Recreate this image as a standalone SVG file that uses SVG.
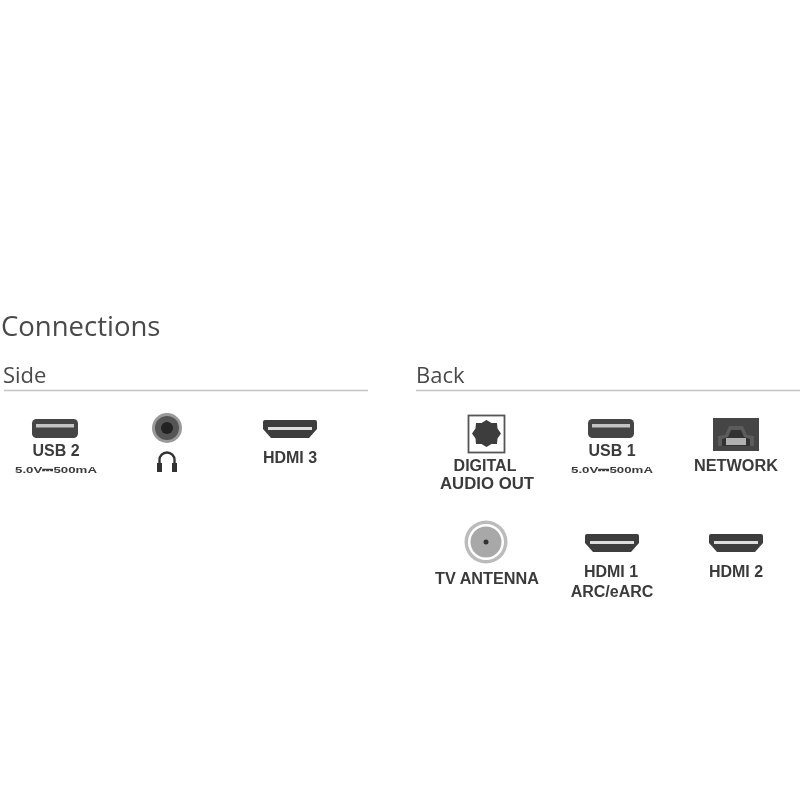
<svg xmlns="http://www.w3.org/2000/svg" width="800" height="800" viewBox="0 0 800 800">
<defs>
<style>
text{font-family:"Open Sans","Noto Sans","Liberation Sans",sans-serif;fill:#3a3a3a}
.h1{font-size:27.500px;fill:#4a4a4a}
.h2{font-size:22px;fill:#4a4a4a}
.l{font-size:16px;font-weight:700;text-anchor:middle;font-family:"Liberation Sans",sans-serif}
.s{font-size:9.500px;font-weight:700;text-anchor:middle;font-family:"Liberation Sans",sans-serif}
.rule{stroke:#c4c4c4;stroke-width:1.400}
.soft{filter:url(#soft)}
</style>
<filter id="soft" x="0" y="0" width="800" height="800" filterUnits="userSpaceOnUse"><feGaussianBlur stdDeviation="0.600"/></filter>
<g id="usb"><rect x="-23" y="-10" width="46" height="19" rx="4.500" fill="#444"/><rect x="-19" y="-5" width="38" height="3.500" fill="#c4c4c4"/></g>
<g id="hdmi"><path d="M-25-9H25Q27-9 27-7V0L19 9H-19L-27 0V-7Q-27-9-25-9Z" fill="#3c3c3c"/><rect x="-22" y="-2" width="44" height="3" fill="#ddd"/></g>
</defs>
<rect width="800" height="800" fill="#fff"/>
<g class="soft">
<g id="titles">
<text class="h1" x="1" y="336">Connections</text>
<text class="h2" x="3" y="383">Side</text>
<text class="h2" x="416" y="383">Back</text>
<line class="rule" x1="4" y1="390.500" x2="368" y2="390.500"/>
<line class="rule" x1="416" y1="390.500" x2="800" y2="390.500"/>
</g>
<g id="usb2"><use href="#usb" x="55" y="429"/><text class="l" x="56" y="456">USB 2</text><text class="s" x="56" y="473" textLength="82" lengthAdjust="spacingAndGlyphs">5.0V⎓500mA</text></g>
<g id="headphone">
<circle cx="167" cy="428" r="15" fill="#999"/><circle cx="167" cy="428" r="12" fill="#555"/><circle cx="167" cy="428" r="6" fill="#222"/>
<path d="M159.500 468V460a7.500 7.500 0 0 1 15 0V468" fill="none" stroke="#333" stroke-width="2.400"/><rect x="157" y="463" width="5" height="9" fill="#333"/><rect x="172" y="463" width="5" height="9" fill="#333"/>
</g>
<g id="hdmi3"><use href="#hdmi" x="290" y="429"/><text class="l" x="290" y="463">HDMI 3</text></g>
<g id="digital-audio-out">
<rect x="468.500" y="415.500" width="36" height="37" fill="#fff" stroke="#555" stroke-width="1.800"/>
<path d="M486.500 420l5 3 5.500 0 .5 5.500 3.500 5-3.500 5-.5 5.500-5.500 0-5 3-5-3-5.500 0-.5-5.500-3.500-5 3.500-5 .5-5.500 5.500 0z" fill="#3e3e3e"/>
<text class="l" x="485" y="471">DIGITAL</text><text class="l" x="487" y="489" textLength="94" lengthAdjust="spacingAndGlyphs">AUDIO OUT</text>
</g>
<g id="usb1"><use href="#usb" x="611" y="429"/><text class="l" x="612" y="456">USB 1</text><text class="s" x="612" y="473" textLength="82" lengthAdjust="spacingAndGlyphs">5.0V⎓500mA</text></g>
<g id="network">
<rect x="713" y="418" width="46" height="33" fill="#444"/>
<path d="M718 446V436L725 435 729 426H743L747 435 754 436V446Z" fill="#5c5c5c"/>
<path d="M722 446V439L728 437 731 430H741L744 437 750 439V446Z" fill="#333"/>
<rect x="726" y="438" width="20" height="7" fill="#b0b0b0"/>
<text class="l" x="736" y="471" textLength="84" lengthAdjust="spacingAndGlyphs">NETWORK</text>
</g>
<g id="tv-antenna">
<circle cx="486" cy="542" r="21.500" fill="#bbb"/><circle cx="486" cy="542" r="18" fill="#fff"/><circle cx="486" cy="542" r="15.500" fill="#a8a8a8"/><circle cx="486" cy="542" r="2.500" fill="#333"/>
<text class="l" x="487" y="584" textLength="104" lengthAdjust="spacingAndGlyphs">TV ANTENNA</text>
</g>
<g id="hdmi1"><use href="#hdmi" x="612" y="543"/><text class="l" x="611" y="577">HDMI 1</text><text class="l" x="612" y="597">ARC/eARC</text></g>
<g id="hdmi2"><use href="#hdmi" x="736" y="543"/><text class="l" x="736" y="577">HDMI 2</text></g>
</g>
<g id="connectors"/>
</svg>
